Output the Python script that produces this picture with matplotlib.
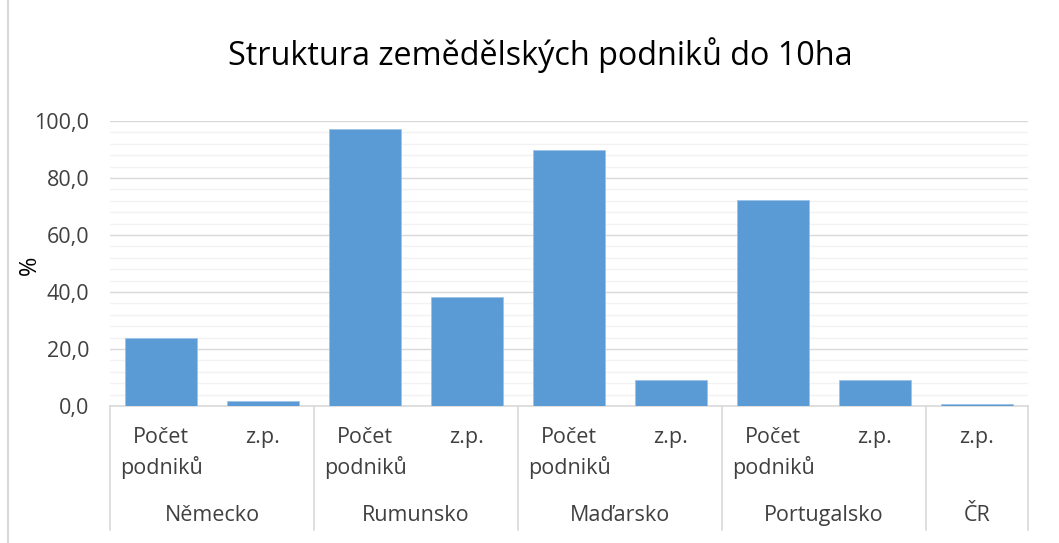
import matplotlib
matplotlib.use('Agg')
import matplotlib.pyplot as plt
import matplotlib.transforms as mtransforms
from matplotlib.patches import Rectangle
from matplotlib.ticker import MultipleLocator, FuncFormatter

plt.rcParams['font.family'] = ['Open Sans', 'DejaVu Sans']

# data
groups = ["Německo", "Rumunsko", "Maďarsko", "Portugalsko", "ČR"]
group_items = [
    ["Počet\npodniků", "z.p."],
    ["Počet\npodniků", "z.p."],
    ["Počet\npodniků", "z.p."],
    ["Počet\npodniků", "z.p."],
    ["z.p."],
]
group_values = [
    [24.0, 1.8],
    [97.3, 38.3],
    [89.8, 9.0],
    [72.3, 9.0],
    [0.8],
]

bar_color = "#5b9bd5"
text_color = "#404040"
title_color = "#000000"

fig = plt.figure(figsize=(10.59, 5.43), dpi=100)
ax = fig.add_axes([110 / 1059, 137 / 543, 918 / 1059, 285 / 543])

labels, values = [], []
for items, vals in zip(group_items, group_values):
    labels += items
    values += vals
x = list(range(len(values)))

ax.bar(x, values, width=0.7, color=bar_color, edgecolor="#9dc3e6", linewidth=0.6, zorder=3)

ax.set_xlim(-0.5, len(values) - 0.5)
ax.set_ylim(0, 100)
ax.yaxis.set_major_locator(MultipleLocator(20))
ax.yaxis.set_minor_locator(MultipleLocator(4))
ax.yaxis.set_major_formatter(FuncFormatter(lambda v, p: f"{v:.1f}".replace('.', ',')))
ax.grid(axis='y', which='major', color="#d9d9d9", linewidth=1.0, zorder=0)
ax.grid(axis='y', which='minor', color="#f2f2f2", linewidth=1.0, zorder=0)
ax.tick_params(axis='y', which='both', length=0, labelsize=15.5, labelcolor=text_color, pad=15)
ax.set_xticks([])
for s in ['top', 'right', 'left']:
    ax.spines[s].set_visible(False)
ax.spines['bottom'].set_color("#d9d9d9")
ax.spines['bottom'].set_linewidth(1.2)

fig.text(30 / 1059, 1 - 265 / 543, "%", rotation=90, ha='center', va='center',
         fontsize=17, color=title_color)

trans = mtransforms.blended_transform_factory(ax.transData, ax.transAxes)
for xi, lab in zip(x, labels):
    ax.text(xi, -0.075, lab, transform=trans, ha='center', va='top',
            fontsize=15.5, color=text_color, linespacing=1.4)

# group labels and separators
start = 0
bounds = [-0.5]
for g, items in zip(groups, group_items):
    n = len(items)
    center = start + (n - 1) / 2
    ax.text(center, -0.385, g, transform=trans, ha='center', va='center',
            fontsize=15.5, color=text_color)
    start += n
    bounds.append(start - 0.5)
for b in bounds:
    ax.plot([b, b], [0, -0.435], transform=trans, color="#d9d9d9",
            linewidth=1.2, clip_on=False)

fig.text(540 / 1059, 1 - 55 / 543, "Struktura zemědělských podniků do 10ha",
         ha='center', va='center', fontsize=23.3, color=title_color)

# chart border
fig.patches.append(Rectangle((8 / 1059, -0.01), 1.2, 1.2, transform=fig.transFigure,
                             fill=False, edgecolor="#d9d9d9", linewidth=1.5))

fig.savefig("out.png", dpi=100)
